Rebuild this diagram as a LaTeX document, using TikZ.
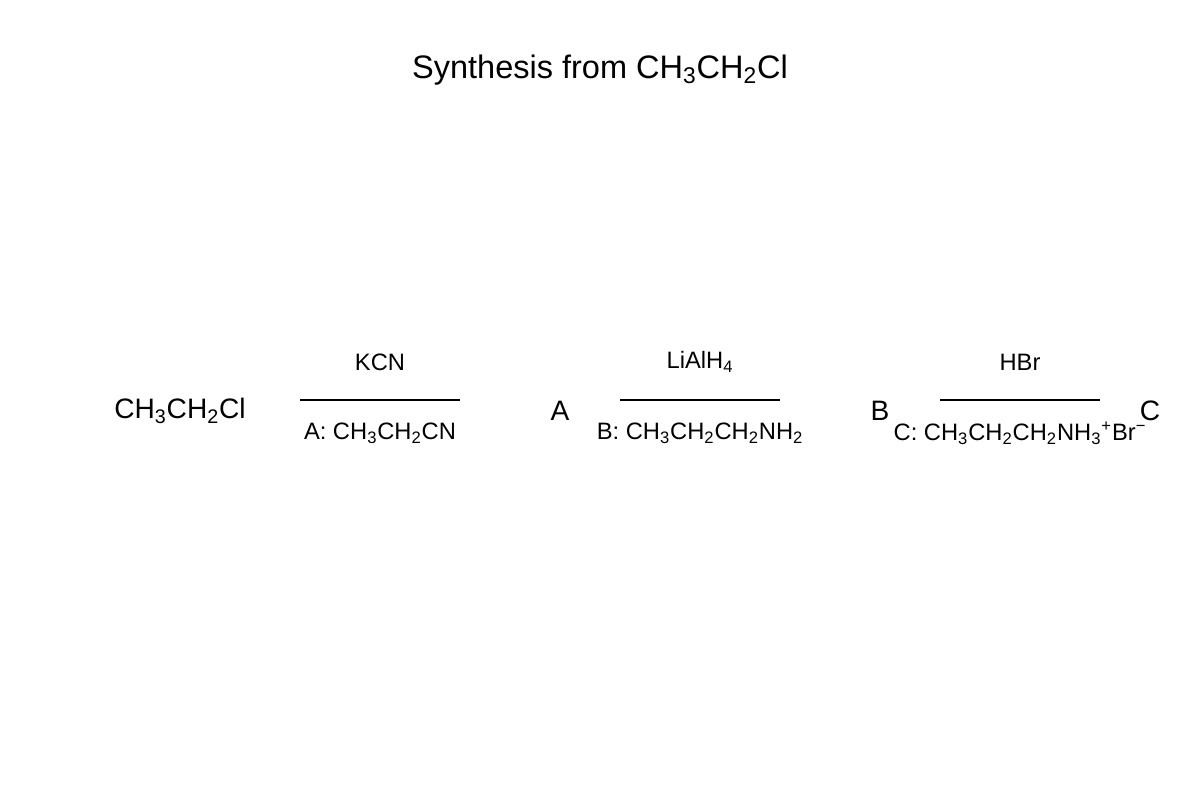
\documentclass[tikz,border=0pt]{standalone}
\usepackage{fontspec}
\setmainfont{Liberation Sans}
\newcommand{\sub}[1]{\textsubscript{#1}}
\begin{document}
\begin{tikzpicture}[x=0.02cm,y=-0.02cm]
	\tikzset{title/.style = {font=\fontsize{18.5}{22}\selectfont}}
	\tikzset{species/.style = {font=\fontsize{16}{19}\selectfont}}
	\tikzset{reagent/.style = {font=\fontsize{13.5}{16}\selectfont}}
	\tikzset{rxnline/.style = {draw,thick}}
	\useasboundingbox (0,0) rectangle (1200,800);
	\node[title] (t) at (600,70) {Synthesis from CH\sub{3}CH\sub{2}Cl};
	\node[species] (s) at (180,411) {CH\sub{3}CH\sub{2}Cl};
	\node[species] (a) at (560,411) {A};
	\node[species] (b) at (880,411) {B};
	\node[species] (c) at (1150,411) {C};
	\coordinate (l1) at (300,400); \coordinate (r1) at (460,400);
	\coordinate (l2) at (620,400); \coordinate (r2) at (780,400);
	\coordinate (l3) at (940,400); \coordinate (r3) at (1100,400);
	\path[rxnline] (l1) -- (r1);
	\path[rxnline] (l2) -- (r2);
	\path[rxnline] (l3) -- (r3);
	\node[reagent] (k1) at (380,362) {KCN};
	\node[reagent] (k2) at (700,362) {LiAlH\sub{4}};
	\node[reagent] (k3) at (1020,362) {HBr};
	\node[reagent] (p1) at (380,433) {A: CH\sub{3}CH\sub{2}CN};
	\node[reagent] (p2) at (700,433) {B: CH\sub{3}CH\sub{2}CH\sub{2}NH\sub{2}};
	\node[reagent] (p3) at (1020,433) {C: CH\sub{3}CH\sub{2}CH\sub{2}NH\sub{3}\textsuperscript{+}Br\textsuperscript{−}};
\end{tikzpicture}
\end{document}
